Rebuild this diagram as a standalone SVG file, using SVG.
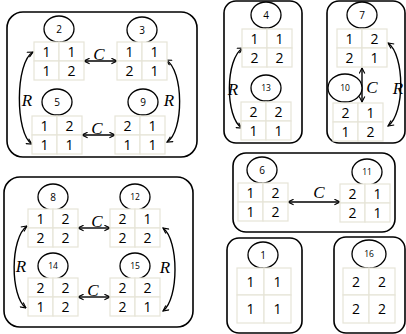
<svg xmlns="http://www.w3.org/2000/svg" width="406" height="334" viewBox="0 0 406 334">
<defs>
<marker id="ah" viewBox="0 0 10 10" refX="9" refY="5" markerWidth="7" markerHeight="7" orient="auto-start-reverse" markerUnits="userSpaceOnUse">
<path d="M1,1 L9,5 L1,9" fill="none" stroke="#000" stroke-width="1.6"/>
</marker>
<style>
.box{fill:#fff;stroke:#000;stroke-width:1.6}
.g{fill:#fff;stroke:#e6e4d8;stroke-width:1.2}
.el{fill:#fff;stroke:#000;stroke-width:1.3}
.d{font-family:"Open Sans","Liberation Sans",sans-serif;font-size:14px;text-anchor:middle;fill:#000}
.n{font-family:"Open Sans","Liberation Sans",sans-serif;font-size:10px;text-anchor:middle;fill:#000}
.n2{font-family:"Open Sans","Liberation Sans",sans-serif;font-size:8.5px;text-anchor:middle;fill:#000}
.lb{font-family:"Liberation Serif",serif;font-style:italic;font-size:17px;text-anchor:middle;fill:#000}
.c{fill:none;stroke:#000;stroke-width:1.4;marker-start:url(#ah);marker-end:url(#ah)}
</style>
</defs>
<rect width="406" height="334" fill="#fff"/>

<g id="boxes">
<rect class="box" x="7" y="12" width="190" height="145" rx="16"/>
<rect class="box" x="224" y="1" width="78" height="142" rx="12"/>
<rect class="box" x="327" y="1" width="78" height="142" rx="12"/>
<rect class="box" x="4" y="177" width="189" height="150" rx="16"/>
<rect class="box" x="233" y="153" width="162" height="79" rx="13"/>
<rect class="box" x="227" y="238" width="75" height="95" rx="12"/>
<rect class="box" x="334" y="237" width="71" height="96" rx="12"/>
</g>

<g id="connectors">
<line class="c" x1="84" y1="61" x2="117" y2="61"/>
<line class="c" x1="82" y1="135" x2="115" y2="135"/>
<path class="c" d="M33,52 C15,62 15,134 32,144"/>
<path class="c" d="M166,60 C184,70 184,132 167,142"/>
<path class="c" d="M243,48 C225,58 225,118 242,128"/>
<line class="c" x1="362" y1="68" x2="362" y2="102"/>
<path class="c" d="M388,43 C405,55 405,114 388,126"/>
<line class="c" x1="78" y1="228" x2="110" y2="228"/>
<line class="c" x1="78" y1="297" x2="110" y2="297"/>
<path class="c" d="M27,226 C10,238 10,296 26,308"/>
<path class="c" d="M163,228 C179,240 179,299 163,311"/>
<line class="c" x1="288" y1="202" x2="340" y2="202"/>
<text class="lb" x="99" y="60">C</text>
<text class="lb" x="97" y="134">C</text>
<text class="lb" x="27" y="106">R</text>
<text class="lb" x="169" y="106">R</text>
<text class="lb" x="233" y="95">R</text>
<text class="lb" x="372" y="93">C</text>
<text class="lb" x="398" y="94">R</text>
<text class="lb" x="97" y="227">C</text>
<text class="lb" x="93" y="296">C</text>
<text class="lb" x="21" y="272">R</text>
<text class="lb" x="165" y="273">R</text>
<text class="lb" x="319" y="198">C</text>
</g>

<g id="n2">
<ellipse class="el" cx="59" cy="29" rx="15" ry="13"/><text class="n" x="59" y="33">2</text>
<rect class="g" x="34" y="42" width="25" height="19"/><rect class="g" x="59" y="42" width="25" height="19"/>
<rect class="g" x="34" y="61" width="25" height="19"/><rect class="g" x="59" y="61" width="25" height="19"/>
<text class="d" x="46.5" y="56.5">1</text><text class="d" x="71.5" y="56.5">1</text>
<text class="d" x="46.5" y="75.5">1</text><text class="d" x="71.5" y="75.5">2</text>
</g>
<g id="n3">
<ellipse class="el" cx="142" cy="30" rx="15" ry="13"/><text class="n" x="142" y="34">3</text>
<rect class="g" x="117" y="42" width="25" height="19"/><rect class="g" x="142" y="42" width="25" height="19"/>
<rect class="g" x="117" y="61" width="25" height="19"/><rect class="g" x="142" y="61" width="25" height="19"/>
<text class="d" x="129.5" y="56.5">1</text><text class="d" x="154.5" y="56.5">1</text>
<text class="d" x="129.5" y="75.5">2</text><text class="d" x="154.5" y="75.5">1</text>
</g>
<g id="n5">
<ellipse class="el" cx="57" cy="102" rx="15" ry="13"/><text class="n" x="57" y="106">5</text>
<rect class="g" x="32" y="116" width="25" height="19"/><rect class="g" x="57" y="116" width="25" height="19"/>
<rect class="g" x="32" y="135" width="25" height="19"/><rect class="g" x="57" y="135" width="25" height="19"/>
<text class="d" x="44.5" y="130.5">1</text><text class="d" x="69.5" y="130.5">2</text>
<text class="d" x="44.5" y="149.5">1</text><text class="d" x="69.5" y="149.5">1</text>
</g>
<g id="n9">
<ellipse class="el" cx="143" cy="102" rx="15" ry="13"/><text class="n" x="143" y="106">9</text>
<rect class="g" x="115" y="116" width="25" height="19"/><rect class="g" x="140" y="116" width="25" height="19"/>
<rect class="g" x="115" y="135" width="25" height="19"/><rect class="g" x="140" y="135" width="25" height="19"/>
<text class="d" x="127.5" y="130.5">2</text><text class="d" x="152.5" y="130.5">1</text>
<text class="d" x="127.5" y="149.5">1</text><text class="d" x="152.5" y="149.5">1</text>
</g>

<g id="n4">
<ellipse class="el" cx="266" cy="15" rx="15" ry="13"/><text class="n" x="266" y="19">4</text>
<rect class="g" x="242" y="29" width="25" height="19"/><rect class="g" x="267" y="29" width="25" height="19"/>
<rect class="g" x="242" y="48" width="25" height="19"/><rect class="g" x="267" y="48" width="25" height="19"/>
<text class="d" x="254.5" y="43.5">1</text><text class="d" x="279.5" y="43.5">1</text>
<text class="d" x="254.5" y="62.5">2</text><text class="d" x="279.5" y="62.5">2</text>
</g>
<g id="n13">
<ellipse class="el" cx="266" cy="88" rx="15" ry="13"/><text class="n2" x="266" y="91">13</text>
<rect class="g" x="241" y="102" width="25" height="19"/><rect class="g" x="266" y="102" width="25" height="19"/>
<rect class="g" x="241" y="121" width="25" height="19"/><rect class="g" x="266" y="121" width="25" height="19"/>
<text class="d" x="253.5" y="116.5">2</text><text class="d" x="278.5" y="116.5">2</text>
<text class="d" x="253.5" y="135.5">1</text><text class="d" x="278.5" y="135.5">1</text>
</g>

<g id="n7">
<ellipse class="el" cx="362" cy="15" rx="15" ry="13"/><text class="n" x="362" y="19">7</text>
<rect class="g" x="337" y="29" width="25" height="19"/><rect class="g" x="362" y="29" width="25" height="19"/>
<rect class="g" x="337" y="48" width="25" height="19"/><rect class="g" x="362" y="48" width="25" height="19"/>
<text class="d" x="349.5" y="43.5">1</text><text class="d" x="374.5" y="43.5">2</text>
<text class="d" x="349.5" y="62.5">2</text><text class="d" x="374.5" y="62.5">1</text>
</g>
<g id="n10">
<ellipse class="el" cx="345" cy="88" rx="17" ry="14"/><text class="n2" x="345" y="91">10</text>
<rect class="g" x="333" y="103" width="25" height="19"/><rect class="g" x="358" y="103" width="25" height="19"/>
<rect class="g" x="333" y="122" width="25" height="19"/><rect class="g" x="358" y="122" width="25" height="19"/>
<text class="d" x="345.5" y="117.5">2</text><text class="d" x="370.5" y="117.5">1</text>
<text class="d" x="345.5" y="136.5">1</text><text class="d" x="370.5" y="136.5">2</text>
</g>

<g id="n8">
<ellipse class="el" cx="53" cy="197" rx="15" ry="13"/><text class="n" x="53" y="201">8</text>
<rect class="g" x="28" y="209" width="25" height="19"/><rect class="g" x="53" y="209" width="25" height="19"/>
<rect class="g" x="28" y="228" width="25" height="19"/><rect class="g" x="53" y="228" width="25" height="19"/>
<text class="d" x="40.5" y="223.5">1</text><text class="d" x="65.5" y="223.5">2</text>
<text class="d" x="40.5" y="242.5">2</text><text class="d" x="65.5" y="242.5">2</text>
</g>
<g id="n12">
<ellipse class="el" cx="135" cy="197" rx="15" ry="13"/><text class="n2" x="135" y="200">12</text>
<rect class="g" x="110" y="209" width="25" height="19"/><rect class="g" x="135" y="209" width="25" height="19"/>
<rect class="g" x="110" y="228" width="25" height="19"/><rect class="g" x="135" y="228" width="25" height="19"/>
<text class="d" x="122.5" y="223.5">2</text><text class="d" x="147.5" y="223.5">1</text>
<text class="d" x="122.5" y="242.5">2</text><text class="d" x="147.5" y="242.5">2</text>
</g>
<g id="n14">
<ellipse class="el" cx="53" cy="266" rx="15" ry="13"/><text class="n2" x="53" y="269">14</text>
<rect class="g" x="28" y="278" width="25" height="19"/><rect class="g" x="53" y="278" width="25" height="19"/>
<rect class="g" x="28" y="297" width="25" height="19"/><rect class="g" x="53" y="297" width="25" height="19"/>
<text class="d" x="40.5" y="292.5">2</text><text class="d" x="65.5" y="292.5">2</text>
<text class="d" x="40.5" y="311.5">1</text><text class="d" x="65.5" y="311.5">2</text>
</g>
<g id="n15">
<ellipse class="el" cx="135" cy="266" rx="15" ry="13"/><text class="n2" x="135" y="269">15</text>
<rect class="g" x="110" y="278" width="25" height="19"/><rect class="g" x="135" y="278" width="25" height="19"/>
<rect class="g" x="110" y="297" width="25" height="19"/><rect class="g" x="135" y="297" width="25" height="19"/>
<text class="d" x="122.5" y="292.5">2</text><text class="d" x="147.5" y="292.5">2</text>
<text class="d" x="122.5" y="311.5">2</text><text class="d" x="147.5" y="311.5">1</text>
</g>

<g id="n6">
<ellipse class="el" cx="262" cy="170" rx="15" ry="13"/><text class="n" x="262" y="174">6</text>
<rect class="g" x="238" y="183" width="25" height="19"/><rect class="g" x="263" y="183" width="25" height="19"/>
<rect class="g" x="238" y="202" width="25" height="19"/><rect class="g" x="263" y="202" width="25" height="19"/>
<text class="d" x="250.5" y="197.5">1</text><text class="d" x="275.5" y="197.5">2</text>
<text class="d" x="250.5" y="216.5">1</text><text class="d" x="275.5" y="216.5">2</text>
</g>
<g id="n11">
<ellipse class="el" cx="367" cy="172" rx="15" ry="13"/><text class="n2" x="367" y="175">11</text>
<rect class="g" x="340" y="184" width="25" height="19"/><rect class="g" x="365" y="184" width="25" height="19"/>
<rect class="g" x="340" y="203" width="25" height="19"/><rect class="g" x="365" y="203" width="25" height="19"/>
<text class="d" x="352.5" y="198.5">2</text><text class="d" x="377.5" y="198.5">1</text>
<text class="d" x="352.5" y="217.5">2</text><text class="d" x="377.5" y="217.5">1</text>
</g>

<g id="n1">
<ellipse class="el" cx="263" cy="255" rx="15" ry="13"/><text class="n" x="263" y="259">1</text>
<rect class="g" x="237" y="268" width="27" height="27"/><rect class="g" x="264" y="268" width="27" height="27"/>
<rect class="g" x="237" y="295" width="27" height="28"/><rect class="g" x="264" y="295" width="27" height="28"/>
<text class="d" x="250.5" y="286.5">1</text><text class="d" x="277.5" y="286.5">1</text>
<text class="d" x="250.5" y="314">1</text><text class="d" x="277.5" y="314">1</text>
</g>
<g id="n16">
<ellipse class="el" cx="369" cy="254" rx="17" ry="14"/><text class="n2" x="369" y="257">16</text>
<rect class="g" x="343" y="268" width="26" height="27"/><rect class="g" x="369" y="268" width="26" height="27"/>
<rect class="g" x="343" y="295" width="26" height="28"/><rect class="g" x="369" y="295" width="26" height="28"/>
<text class="d" x="356" y="286.5">2</text><text class="d" x="382" y="286.5">2</text>
<text class="d" x="356" y="314">2</text><text class="d" x="382" y="314">2</text>
</g>
</svg>
